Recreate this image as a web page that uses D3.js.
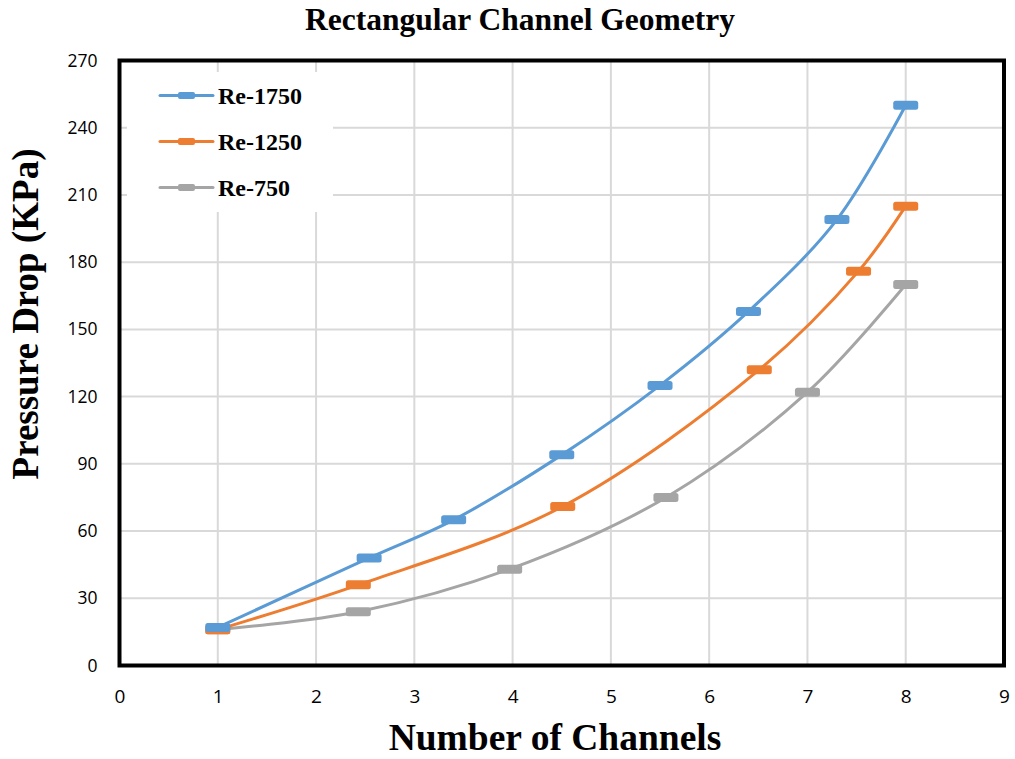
<!DOCTYPE html>
<html>
<head>
<meta charset="utf-8">
<script src="https://cdn.jsdelivr.net/npm/d3@7"></script>
<style>
  html, body { margin: 0; padding: 0; background: #fff; }
  svg { display: block; }
</style>
</head>
<body>
<script>
// Pressure drop vs. number of channels for three Reynolds numbers
const seriesNames = ["Re-1750", "Re-1250", "Re-750"];
const seriesColors = ["#5b9bd5", "#ed7d31", "#a5a5a5"];

const re1750X = [1, 2.54, 3.4, 4.5, 5.5, 6.4, 7.3, 8];
const re1750Y = [17, 48, 65, 94, 125, 158, 199, 250];

const re1250X = [1, 2.43, 4.51, 6.51, 7.52, 8];
const re1250Y = [16, 36, 71, 132, 176, 205];

const re750X = [1, 2.43, 3.97, 5.56, 7, 8];
const re750Y = [16, 24, 43, 75, 122, 170];

const xTicks = [0, 1, 2, 3, 4, 5, 6, 7, 8, 9];
const yTicks = [0, 30, 60, 90, 120, 150, 180, 210, 240, 270];

const W = 1015, H = 759;
const margin = { left: 119.5, right: W - 1004, top: 60.5, bottom: H - 665.5 };

const svg = d3.select("body").append("svg")
  .attr("width", W).attr("height", H);

const x = d3.scaleLinear().domain([0, 9]).range([margin.left, W - margin.right]);
const y = d3.scaleLinear().domain([0, 270]).range([H - margin.bottom, margin.top]);

// gridlines
const grid = svg.append("g");
grid.selectAll("line.gx").data(xTicks.slice(1, -1)).join("line")
  .attr("x1", d => x(d)).attr("x2", d => x(d))
  .attr("y1", y(270)).attr("y2", y(0))
  .attr("stroke", "#d9d9d9").attr("stroke-width", 2);
grid.selectAll("line.gy").data(yTicks.slice(1, -1)).join("line")
  .attr("x1", x(0)).attr("x2", x(9))
  .attr("y1", d => y(d)).attr("y2", d => y(d))
  .attr("stroke", "#d9d9d9").attr("stroke-width", 2);

// legend background hides the grid behind it
svg.append("rect")
  .attr("x", 127).attr("y", 72).attr("width", 206).attr("height", 140)
  .attr("fill", "#fff");

// axes (labels only)
const xAxis = d3.axisBottom(x).tickValues(xTicks).tickSize(0).tickPadding(0);
const gx = svg.append("g").attr("transform", `translate(0,${y(0) + 31})`).call(xAxis);
gx.select(".domain").remove();
gx.selectAll("text")
  .attr("dy", "0.35em")
  .style("font-family", "'Liberation Sans Narrow', 'Open Sans', sans-serif")
  .style("font-size", "19px").attr("fill", "#000");

const yAxis = d3.axisLeft(y).tickValues(yTicks).tickSize(0).tickPadding(0);
const gy = svg.append("g").attr("transform", `translate(${x(0) - 22},0)`).call(yAxis);
gy.select(".domain").remove();
gy.selectAll("text")
  .style("font-family", "'Open Sans', sans-serif")
  .style("font-size", "17.5px").attr("fill", "#000");

// series
const series = [
  { name: seriesNames[0], color: seriesColors[0], xs: re1750X, ys: re1750Y },
  { name: seriesNames[1], color: seriesColors[1], xs: re1250X, ys: re1250Y },
  { name: seriesNames[2], color: seriesColors[2], xs: re750X, ys: re750Y }
];

const line = d3.line()
  .x(d => x(d[0])).y(d => y(d[1]))
  .curve(d3.curveCatmullRom.alpha(0.5));

const plot = svg.append("g");
// draw lowest series first so Re-1750 sits on top
series.slice().reverse().forEach(s => {
  const pts = s.xs.map((v, i) => [v, s.ys[i]]);
  plot.append("path").datum(pts)
    .attr("d", line)
    .attr("fill", "none")
    .attr("stroke", s.color)
    .attr("stroke-width", 3)
    .attr("stroke-linecap", "round");
  plot.selectAll(null).data(pts).join("rect")
    .attr("x", d => x(d[0]) - 12.5)
    .attr("y", d => y(d[1]) - 4.5)
    .attr("width", 25).attr("height", 9)
    .attr("rx", 2.5)
    .attr("fill", s.color);
});

// plot frame
svg.append("rect")
  .attr("x", x(0)).attr("y", y(270))
  .attr("width", x(9) - x(0)).attr("height", y(0) - y(270))
  .attr("fill", "none").attr("stroke", "#000").attr("stroke-width", 4);

// legend
const legend = svg.append("g");
series.forEach((s, i) => {
  const ly = 95.5 + i * 46;
  legend.append("line")
    .attr("x1", 160).attr("x2", 213).attr("y1", ly).attr("y2", ly)
    .attr("stroke", s.color).attr("stroke-width", 3).attr("stroke-linecap", "round");
  legend.append("rect")
    .attr("x", 178).attr("y", ly - 3.5).attr("width", 17).attr("height", 7)
    .attr("rx", 2).attr("fill", s.color);
  legend.append("text")
    .attr("x", 218).attr("y", ly).attr("dy", "0.35em")
    .style("font-family", "'Liberation Serif', 'Times New Roman', serif")
    .style("font-weight", "bold").style("font-size", "24px")
    .attr("fill", "#000")
    .text(s.name);
});

// titles
svg.append("text")
  .attr("x", 520).attr("y", 30)
  .attr("text-anchor", "middle")
  .style("font-family", "'Liberation Serif', 'Times New Roman', serif")
  .style("font-weight", "bold").style("font-size", "31.5px")
  .text("Rectangular Channel Geometry");

svg.append("text")
  .attr("x", 555).attr("y", 750)
  .attr("text-anchor", "middle")
  .style("font-family", "'Liberation Serif', 'Times New Roman', serif")
  .style("font-weight", "bold").style("font-size", "37.5px")
  .text("Number of Channels");

svg.append("text")
  .attr("transform", "translate(38,314) rotate(-90)")
  .attr("text-anchor", "middle")
  .style("font-family", "'Liberation Serif', 'Times New Roman', serif")
  .style("font-weight", "bold").style("font-size", "37px")
  .text("Pressure Drop (KPa)");
</script>
</body>
</html>
